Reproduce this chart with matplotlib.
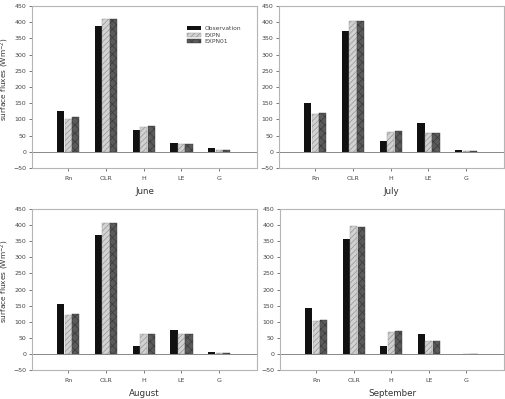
import numpy as np
import matplotlib
matplotlib.use("Agg")
import matplotlib.pyplot as plt

# ------------------------------------------------------------------
# Data (W m^-2)
# ------------------------------------------------------------------
categories = ["Rn", "OLR", "H", "LE", "G"]
series_names = ["Observation", "EXPN", "EXPN01"]
months = ["June", "July", "August", "September"]

june_obs = [125, 388, 67, 27, 12]
june_expn = [102, 411, 78, 23, 6]
june_expn01 = [106, 410, 79, 25, 6]

july_obs = [152, 372, 34, 90, 7]
july_expn = [117, 405, 62, 58, 2]
july_expn01 = [120, 404, 64, 59, 3]

aug_obs = [156, 370, 25, 75, 6]
aug_expn = [121, 406, 61, 62, 2]
aug_expn01 = [124, 405, 62, 62, 3]

sep_obs = [143, 357, 26, 61, 0.5]
sep_expn = [103, 397, 68, 39, 0.3]
sep_expn01 = [106, 394, 71, 41, 0.3]

month_data = [
    (june_obs, june_expn, june_expn01),
    (july_obs, july_expn, july_expn01),
    (aug_obs, aug_expn, aug_expn01),
    (sep_obs, sep_expn, sep_expn01),
]

y_ticks = np.arange(-50, 451, 50)

plt.rcParams["hatch.linewidth"] = 0.5
fig = plt.figure(figsize=(5.06, 3.99), dpi=100)

W, H = 506, 399
boxes = [(32, 6, 257, 168), (279, 6, 504, 168),
         (32, 209, 257, 370), (280, 209, 504, 370)]

styles = [
    dict(color="#111111", hatch=None, edgecolor="#111111"),
    dict(color="#d2d2d2", hatch="//////", edgecolor="#959595"),
    dict(color="#5a5a5a", hatch="xxxx", edgecolor="#3a3a3a"),
]

x = np.arange(1, len(categories) + 1)
bw = 0.19
offsets = [-0.2, 0.0, 0.2]
spine_c = "#b5b5b5"

for i, (month, vals) in enumerate(zip(months, month_data)):
    x0, y0, x1, y1 = boxes[i]
    ax = fig.add_axes([x0 / W, 1 - y1 / H, (x1 - x0) / W, (y1 - y0) / H])
    handles = []
    for s, (v, st, off) in enumerate(zip(vals, styles, offsets)):
        b = ax.bar(x + off, v, width=bw, color=st["color"], hatch=st["hatch"],
                   edgecolor=st["edgecolor"], linewidth=0.0 if st["hatch"] is None else 0.3,
                   label=series_names[s])
        handles.append(b)
    ax.axhline(0, color="#888888", lw=0.7)
    ax.set_xlim(0.04, 6.0)
    ax.set_ylim(-50, 450)
    ax.set_yticks(y_ticks)
    ax.set_xticks(x)
    ax.set_xticklabels(categories)
    ax.tick_params(axis="both", labelsize=4.5, colors="#444444", length=2,
                   width=0.5, pad=2)
    ax.tick_params(axis="x", pad=4)
    for sp in ax.spines.values():
        sp.set_color(spine_c)
        sp.set_linewidth(0.8)
    ax.set_xlabel(month, fontsize=6.3, color="#333333", labelpad=4)
    if i % 2 == 0:
        ax.set_ylabel("surface fluxes (Wm$^{-2}$)", fontsize=5.3,
                      color="#333333")
        ax.yaxis.set_label_coords(-0.092, 0.55)
    if i == 0:
        ax.legend(handles=handles, loc="upper left", bbox_to_anchor=(0.67, 0.9),
                  frameon=False, fontsize=4.3, handlelength=2.4, handleheight=0.55,
                  labelspacing=0.25, handletextpad=0.5, labelcolor="#444444",
                  borderpad=0.2)

fig.savefig("out.png", dpi=100)
